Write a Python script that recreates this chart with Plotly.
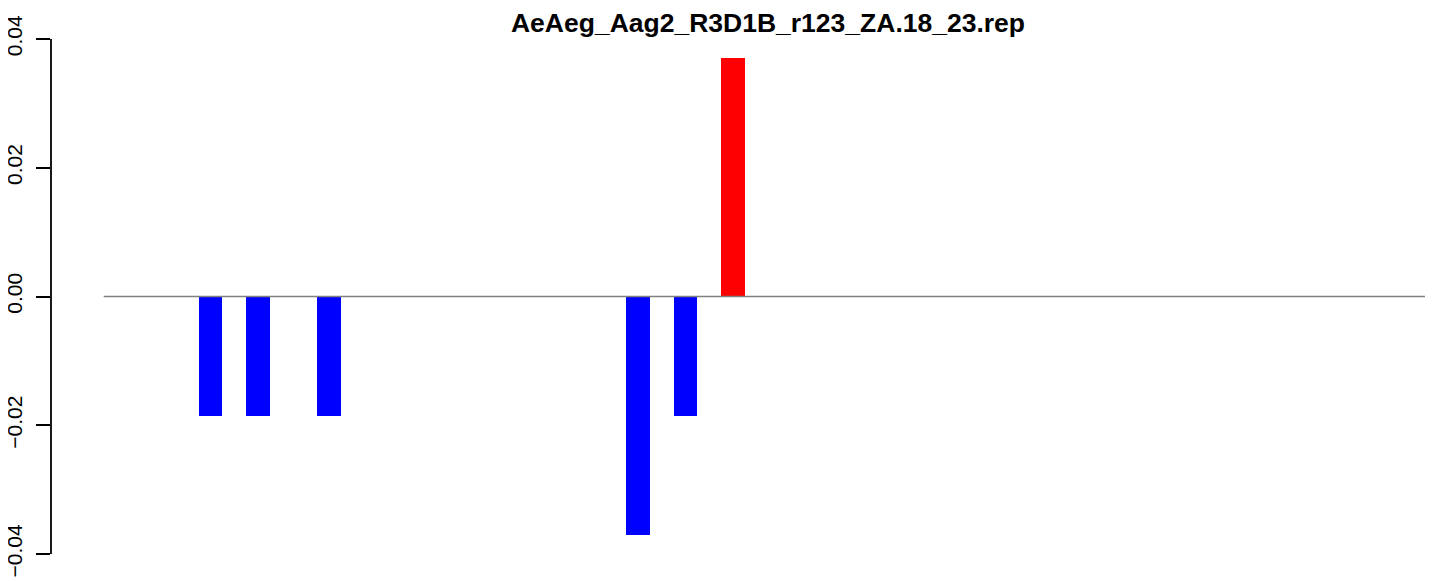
import plotly.graph_objects as go

# ---- data ----
n_bars = 56
bar_index = [4, 6, 9, 22, 24, 26]
bar_values = [-0.0185, -0.0185, -0.0185, -0.037, -0.0185, 0.037]
y_tick_vals = [-0.04, -0.02, 0.0, 0.02, 0.04]
y_tick_text = ["\u22120.04", "\u22120.02", "0.00", "0.02", "0.04"]
title_text = "AeAeg_Aag2_R3D1B_r123_ZA.18_23.rep"

x_all = list(range(n_bars))
y_all = [0.0] * n_bars
for i, v in zip(bar_index, bar_values):
    y_all[i] = v
colors = ["#FF0000" if v > 0 else "#0000FF" for v in y_all]

fig = go.Figure(go.Bar(x=x_all, y=y_all, marker=dict(color=colors, line=dict(width=0)), width=1.0))

# zero line along the (zero-height) bars, running to the right edge
fig.add_shape(type="line", xref="x", yref="y", x0=-0.5, x1=n_bars + 1, y0=0, y1=0,
              line=dict(color="#808080", width=1.6), layer="above")
# y axis line from lowest to highest tick
fig.add_shape(type="line", xref="paper", yref="y", x0=0, x1=0,
              y0=min(y_tick_vals), y1=max(y_tick_vals),
              line=dict(color="black", width=1.8))

# the page adds an 8px body margin; figure size compensates
fig.update_layout(
    width=1425, height=573,
    margin=dict(l=43, r=0, t=10, b=6, autoexpand=False),
    plot_bgcolor="white", paper_bgcolor="white",
    bargap=0, showlegend=False,
    font=dict(family="Liberation Sans, Arial, Helvetica, sans-serif", color="black"),
    title=dict(text="<b>" + title_text + "</b>", xref="container", yref="container",
               x=760 / 1425, xanchor="center", y=1 - 15 / 573, yanchor="middle",
               font=dict(size=26.5, color="black")),
    xaxis=dict(range=[-2.72, 55.49], visible=False, fixedrange=True, automargin=False),
    yaxis=dict(range=[-0.04326, 0.04326], showgrid=False, zeroline=False, showline=False,
               automargin=False,
               tickmode="array", tickvals=y_tick_vals, ticktext=y_tick_text,
               tickangle=-90, ticks="outside", ticklen=14, tickwidth=1.8, tickcolor="black",
               tickfont=dict(size=21, color="black"), ticklabelstandoff=6),
)

fig.write_html("out.html")
